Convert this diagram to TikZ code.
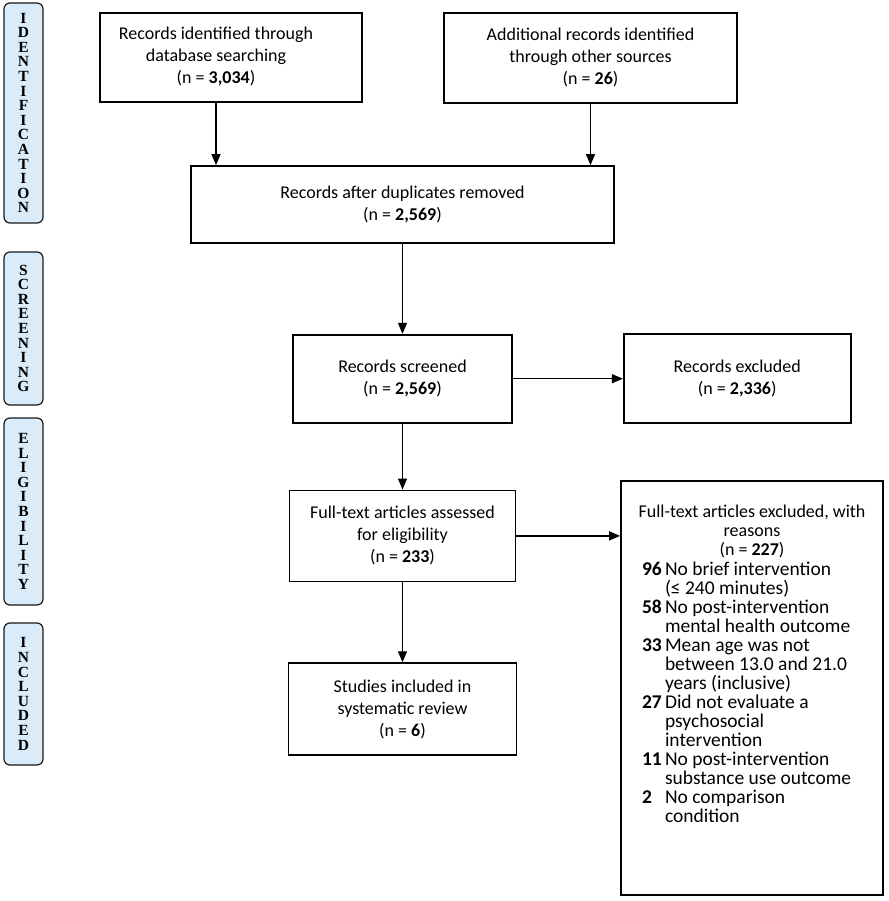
\documentclass[tikz,border=0pt]{standalone}
\usepackage{fontspec}
\setmainfont{Carlito}
\newfontfamily\stagefont{Liberation Serif}
\usetikzlibrary{arrows.meta, positioning}
\definecolor{StageBlue}{RGB}{218,235,250}
\definecolor{RichBlack}{RGB}{25,25,25}
\tikzset{%
  record/.style={%
    rectangle,%
    draw=black,%
    line width=1.7pt,%
    inner sep=2pt,%
    align=center,%
    font={\fontsize{18}{22}\selectfont}%
  },
  stage/.style={%
    rectangle,%
    rounded corners=6pt,%
    draw=RichBlack,%
    line width=1.2pt,%
    fill=StageBlue,%
    minimum width=39pt,%
    inner sep=0pt,%
    align=center,%
    font={\stagefont\bfseries\fontsize{15.5}{14.6}\selectfont}%
  },
  flow/.style={%
    line width=1.4pt,%
    -{Triangle[length=11pt, width=9pt]}%
  },
}
\newcommand{\nval}[1]{(n = \textbf{#1})}
\newcommand{\reason}[2]{\leavevmode\llap{\makebox[23pt][l]{\textbf{#1}}}#2}

\begin{document}
\begin{tikzpicture}[x=1pt, y=-1pt]
  \useasboundingbox (0,0) rectangle (888,901);

  % stages down the left side
  \node[stage, minimum height=220pt] (identification) at (23.5,113) {I\\D\\E\\N\\T\\I\\F\\I\\C\\A\\T\\I\\O\\N};
  \node[stage, minimum height=153pt] (screening) at (23.5,328.5) {S\\C\\R\\E\\E\\N\\I\\N\\G};
  \node[stage, minimum height=187pt] (eligibility) at (23.5,511.5) {E\\L\\I\\G\\I\\B\\I\\L\\I\\T\\Y};
  \node[stage, minimum height=142pt] (included_stage) at (23.5,694) {I\\N\\C\\L\\U\\D\\E\\D};

  % records
  \node[record, minimum width=262pt, minimum height=89pt] (database) at (231,57.5) {%
    \begin{tabular}{@{}c@{\hspace{30pt}}}Records identified through\\database searching\\\nval{3,034}\end{tabular}};
  \node[record, minimum width=293pt, minimum height=90pt] (other) at (590.5,58) {Additional records identified\\through other sources\\\nval{26}};
  \node[record, minimum width=423pt, minimum height=77pt] (duplicates) at (402.5,204.5) {Records after duplicates removed\\\nval{2,569}};
  \node[record, minimum width=219pt, minimum height=88pt, below=90pt of duplicates] (screened) {Records screened\\\nval{2,569}};
  \node[record, minimum width=227pt, minimum height=89pt, right=110pt of screened] (excluded) {Records excluded\\\nval{2,336}};
  \node[record, minimum width=226pt, minimum height=91pt, below=66pt of screened] (fulltext) {Full-text articles assessed\\for eligibility\\\nval{233}};
  \node[record, minimum width=228pt, minimum height=92pt, below=80pt of fulltext] (included) {Studies included in\\systematic review\\\nval{6}};
  \node[record, inner sep=0pt, align=left] (reasons) at (752,688) {%
    \begin{minipage}[t][414pt][t]{262pt}
      \fontsize{18}{18.75}\selectfont
      \vspace*{24pt}
      {\centering Full-text articles excluded, with\\reasons\\\nval{227}\par}
      \vspace{1.5pt}
      {\fontsize{19.5}{19}\selectfont\lineskiplimit=-100pt
      \raggedright\leftskip=44pt
      \reason{96}{No brief intervention}\\
      (≤ 240 minutes)\\
      \reason{58}{No post-intervention}\\
      mental health outcome\\
      \reason{33}{Mean age was not}\\
      between 13.0 and 21.0\\
      years (inclusive)\\
      \reason{27}{Did not evaluate a}\\
      psychosocial\\
      intervention\\
      \reason{11}{No post-intervention}\\
      substance use outcome\\
      \reason{2}{No comparison}\\
      condition\par}
    \end{minipage}};

  \coordinate (database_out) at ([xshift=-15pt]database.south);

  \draw[flow] (database_out) -- (database_out |- duplicates.north);
  \draw[flow] (other.south) -- (other.south |- duplicates.north);
  \draw[flow] (duplicates.south) -- (screened.north);
  \draw[flow] (screened.east) -- (excluded.west);
  \draw[flow] (screened.south) -- (fulltext.north);
  \draw[flow] (fulltext.east) -- (fulltext.east -| reasons.west);
  \draw[flow] (fulltext.south) -- (included.north);

\end{tikzpicture}
\end{document}
